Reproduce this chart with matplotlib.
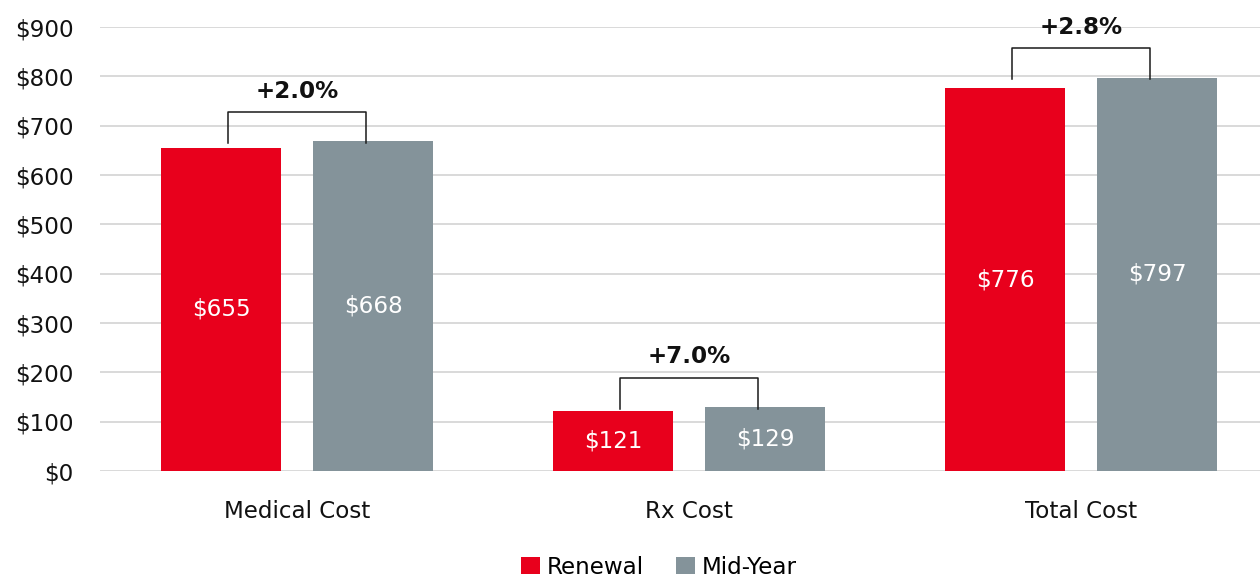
import matplotlib.pyplot as plt
import numpy as np

plt.rcParams['font.family'] = ['DejaVu Sans']

categories = ['Medical Cost', 'Rx Cost', 'Total Cost']
renewal = [655, 121, 776]
mid_year = [668, 129, 797]
changes = ['+2.0%', '+7.0%', '+2.8%']
yticks = [0, 100, 200, 300, 400, 500, 600, 700, 800, 900]

red = '#E8001C'
gray = '#84939A'
fs = 16.6

fig = plt.figure(figsize=(12.6, 5.78), dpi=100)
ax = fig.add_axes([100 / 1260, 107 / 578, 1160 / 1260, 444 / 578])

x = np.arange(len(categories))
w = 0.304
off = 0.194
b1 = ax.bar(x - off, renewal, w, color=red, label='Renewal', zorder=3)
b2 = ax.bar(x + off, mid_year, w, color=gray, label='Mid-Year', zorder=3)

for bars in (b1, b2):
    for rect in bars:
        h = rect.get_height()
        ax.text(rect.get_x() + rect.get_width() / 2, h / 2, f'${h:.0f}',
                ha='center', va='center', color='white', fontsize=fs, zorder=4)

# brackets with % change
for i in range(len(categories)):
    top = max(renewal[i], mid_year[i])
    y0 = top - 3
    y1 = top + 60
    xl, xr = x[i] - 0.175, x[i] + 0.175
    ax.plot([xl, xl, xr, xr], [y0, y1, y1, y0], color='#1a1a1a', lw=1.1,
            solid_joinstyle='round', zorder=5, clip_on=False)
    ax.annotate(changes[i], (x[i], y1), xytext=(0, 15), textcoords='offset points',
                ha='center', va='center', fontsize=fs, fontweight='bold',
                color='#111111', annotation_clip=False)

ax.set_ylim(0, 900)
ax.set_xlim(-0.5026, -0.5026 + 1160 / 392)
ax.set_yticks(yticks)
ax.set_yticklabels([f'${v}' for v in yticks])
ax.set_xticks(x)
ax.set_xticklabels(categories)
ax.tick_params(axis='both', length=0, labelsize=fs, colors='#111111')
ax.tick_params(axis='y', pad=19)
ax.tick_params(axis='x', pad=21)
ax.grid(axis='y', color='#D9D9D9', lw=1.4, zorder=0)
ax.set_axisbelow(True)
for s in ax.spines.values():
    s.set_visible(False)

fig.legend(handles=[b1, b2], loc='lower center', bbox_to_anchor=(0.523, -0.037),
           ncol=2, frameon=False, fontsize=fs, handlelength=0.8,
           handleheight=0.8, handletextpad=0.3, columnspacing=1.4)

fig.savefig('out.png', dpi=100)
